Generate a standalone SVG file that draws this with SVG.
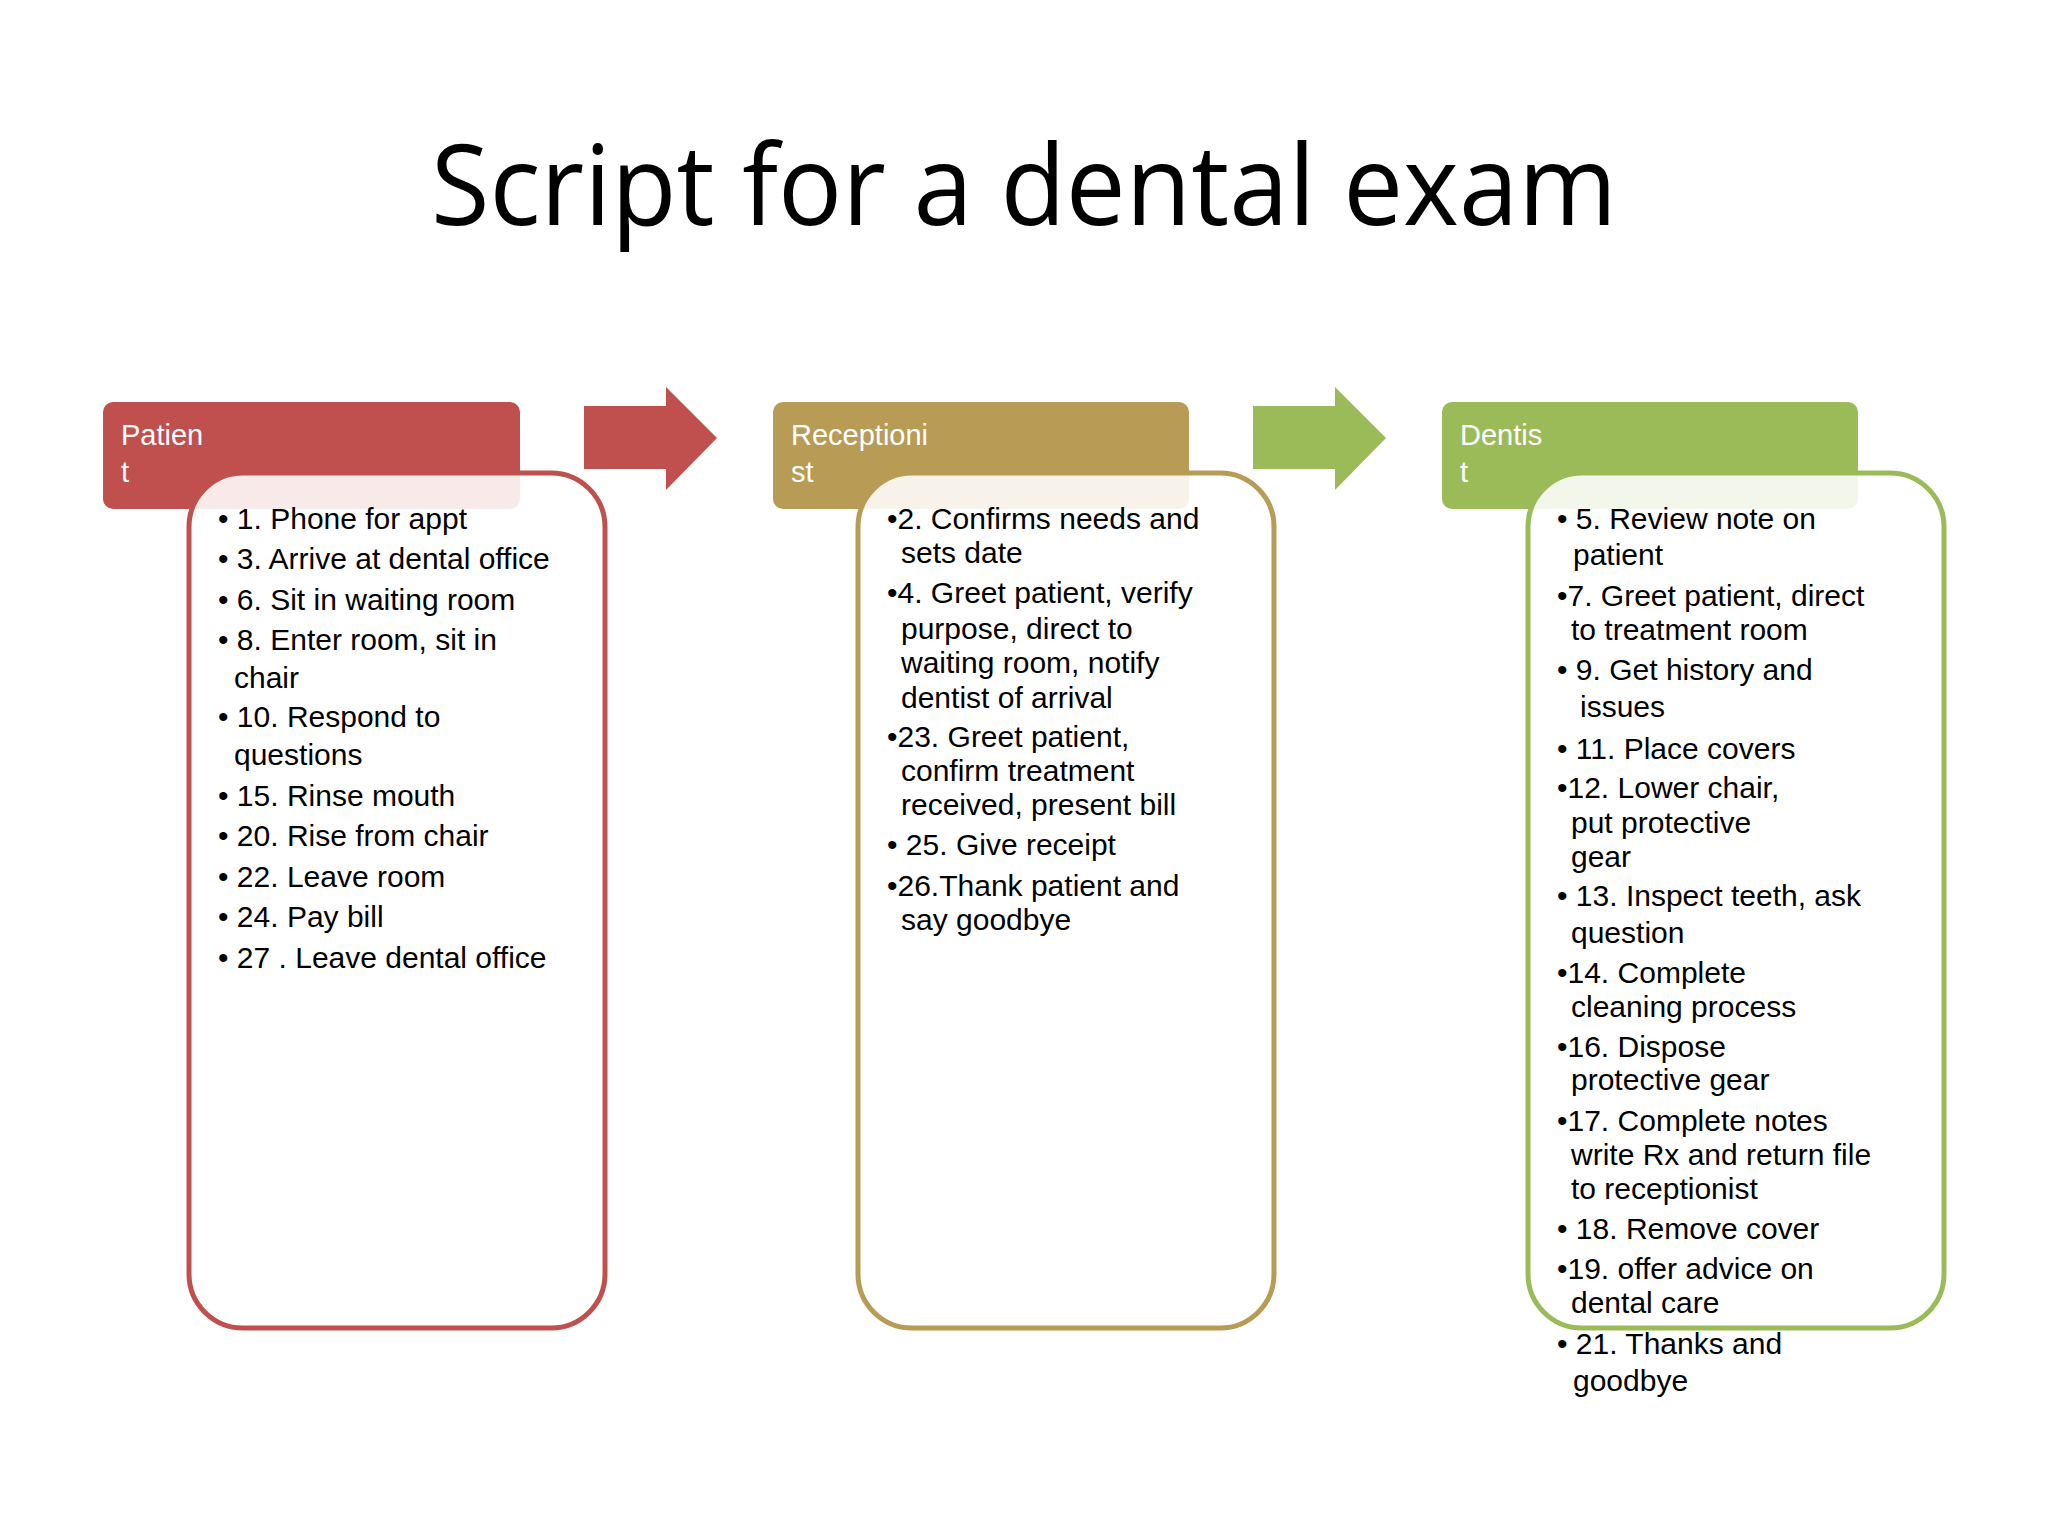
<svg xmlns="http://www.w3.org/2000/svg" width="2048" height="1536" viewBox="0 0 2048 1536">
<style>
.t{font-family:"Liberation Sans",Arial,sans-serif;font-size:30px;fill:#000}
.h{font-family:"Liberation Sans",Arial,sans-serif;font-size:29px;fill:#fff}
.ttl{font-family:"Open Sans","Liberation Sans",sans-serif;font-size:112px;fill:#000}
.body{fill:#fff;fill-opacity:0.88;stroke-width:5}
</style>
<rect width="2048" height="1536" fill="#fff"/>
<text class="ttl" x="1024" y="225" text-anchor="middle" textLength="1186" lengthAdjust="spacingAndGlyphs">Script for a dental exam</text>
<g id="connectors">
<polygon points="584,406 666,406 666,387 717,438 666,490 666,469 584,469" fill="#C0504D"/>
<polygon points="1253,406 1335,406 1335,387 1386,438 1335,490 1335,469 1253,469" fill="#9BBB59"/>
</g>
<g id="patient">
<rect x="103" y="402" width="417" height="107" rx="10" fill="#C0504D"/>
<text class="h" x="121" y="445">Patien</text><text class="h" x="121" y="482">t</text>
<rect class="body" x="189" y="473" width="416" height="855" rx="54" stroke="#C0504D"/>
<g class="t">
<text x="218" y="529">• 1. Phone for appt</text>
<text x="218" y="569">• 3. Arrive at dental office</text>
<text x="218" y="610">• 6. Sit in waiting room</text>
<text x="218" y="650">• 8. Enter room, sit in</text>
<text x="234" y="688">chair</text>
<text x="218" y="727">• 10. Respond to</text>
<text x="234" y="765">questions</text>
<text x="218" y="806">•  15. Rinse mouth</text>
<text x="218" y="846">• 20. Rise from chair</text>
<text x="218" y="887">•  22. Leave room</text>
<text x="218" y="927">• 24. Pay bill</text>
<text x="218" y="968">• 27 . Leave dental office</text>
</g>
</g>
<g id="receptionist">
<rect x="773" y="402" width="416" height="107" rx="10" fill="#B89B55"/>
<text class="h" x="791" y="445">Receptioni</text><text class="h" x="791" y="482">st</text>
<rect class="body" x="858" y="473" width="416" height="855" rx="54" stroke="#B89B55"/>
<g class="t">
<text x="887" y="529">•2. Confirms needs and</text>
<text x="901" y="563">sets  date</text>
<text x="887" y="603">•4. Greet patient, verify</text>
<text x="901" y="639">purpose, direct to</text>
<text x="901" y="673">waiting  room, notify</text>
<text x="901" y="708">dentist of  arrival</text>
<text x="887" y="747">•23. Greet patient,</text>
<text x="901" y="781">confirm  treatment</text>
<text x="901" y="815">received, present bill</text>
<text x="887" y="855">• 25. Give receipt</text>
<text x="887" y="896">•26.Thank patient and</text>
<text x="901" y="930">say  goodbye</text>
</g>
</g>
<g id="dentist">
<rect x="1442" y="402" width="416" height="107" rx="10" fill="#9BBB59"/>
<text class="h" x="1460" y="445">Dentis</text><text class="h" x="1460" y="482">t</text>
<rect class="body" x="1528" y="473" width="416" height="855" rx="54" stroke="#9BBB59"/>
<g class="t">
<text x="1557" y="529">• 5. Review note on</text>
<text x="1573" y="565">patient</text>
<text x="1557" y="606">•7. Greet patient, direct</text>
<text x="1571" y="640">to  treatment room</text>
<text x="1557" y="680">•  9. Get history and</text>
<text x="1580" y="717">issues</text>
<text x="1557" y="759">• 11. Place covers</text>
<text x="1557" y="798">•12. Lower chair,</text>
<text x="1571" y="833">put  protective</text>
<text x="1571" y="867">gear</text>
<text x="1557" y="906">• 13. Inspect teeth, ask</text>
<text x="1571" y="943">question</text>
<text x="1557" y="983">•14. Complete</text>
<text x="1571" y="1017">cleaning  process</text>
<text x="1557" y="1057">•16. Dispose</text>
<text x="1571" y="1090">protective  gear</text>
<text x="1557" y="1131">•17. Complete notes</text>
<text x="1571" y="1165">write  Rx and return file</text>
<text x="1571" y="1199">to  receptionist</text>
<text x="1557" y="1239">• 18. Remove cover</text>
<text x="1557" y="1279">•19. offer advice on</text>
<text x="1571" y="1313">dental  care</text>
<text x="1557" y="1354">• 21. Thanks and</text>
<text x="1573" y="1391">goodbye</text>
</g>
</g>
</svg>
